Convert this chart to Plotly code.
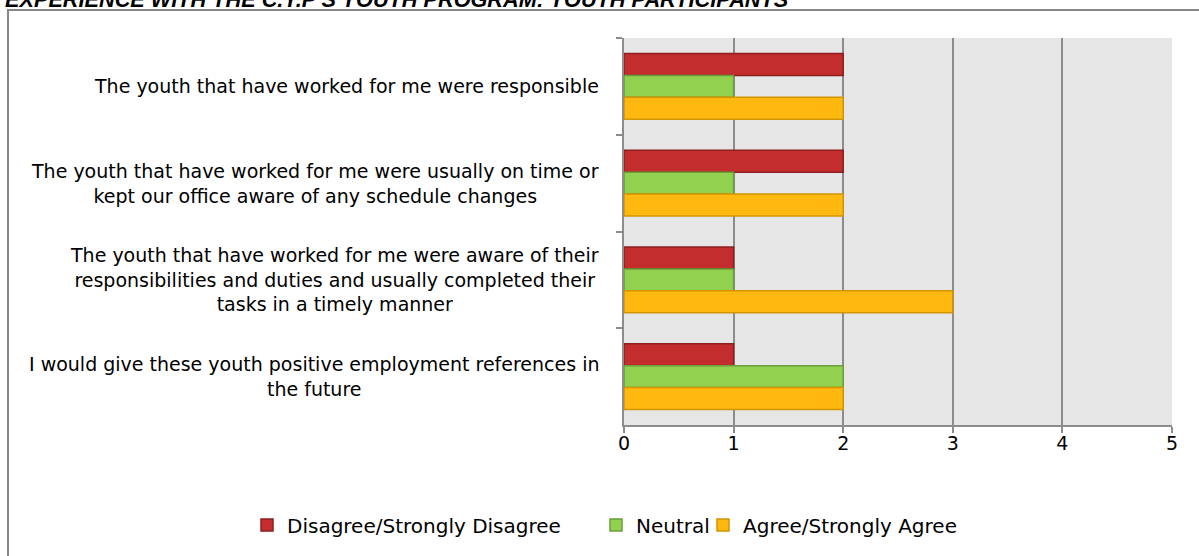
import plotly.graph_objects as go

statements = [
    "The youth that have worked for me were responsible",
    "The youth that have worked for me were usually on time or<br>kept our office aware of any schedule changes",
    "The youth that have worked for me were aware of their<br>responsibilities and duties and usually completed their<br>tasks in a timely manner",
    "I would give these youth positive employment references in<br>the future",
]
disagree = [2, 2, 1, 1]
neutral = [1, 1, 1, 2]
agree = [2, 2, 3, 2]
x_ticks = [0, 1, 2, 3, 4, 5]

title = "EXPERIENCE WITH THE C.Y.P'S YOUTH PROGRAM: YOUTH PARTICIPANTS"

FONT = "DejaVu Sans, Century Gothic, sans-serif"

W, H = 1199, 556
L, R, T, B = 624, 27, 38, 131
pw, ph = W - L - R, H - T - B


def px_x(x):
    return (x - L) / pw


def px_y(y):
    return 1 - (y - T) / ph


fig = go.Figure()
series = [
    ("Disagree/Strongly Disagree", disagree, "#C32D2E", "#8E1F20", "legend", 285),
    ("Neutral", neutral, "#92D050", "#6A9E38", "legend2", 634),
    ("Agree/Strongly Agree", agree, "#FFB80F", "#D29500", "legend3", 741),
]
for name, vals, fill, edge, leg, _ in series:
    fig.add_trace(go.Bar(
        y=statements, x=vals, name=name, orientation="h", legend=leg,
        showlegend=True,
        marker=dict(color=fill, line=dict(color=edge, width=1.5)),
    ))

# category labels as centred multi-line annotations
for s in statements:
    fig.add_annotation(
        x=px_x(601), xref="paper", y=s, yref="y",
        text=s, showarrow=False, xanchor="right", align="center",
        font=dict(family=FONT, size=19, color="#000"),
    )

# chart frame
fig.add_shape(type="rect", xref="paper", yref="paper",
              x0=px_x(8), x1=px_x(1215), y0=px_y(575), y1=px_y(10),
              line=dict(color="#888888", width=2), layer="below")

fig.add_annotation(
    x=px_x(3), xref="paper", y=px_y(14), yref="paper",
    text="<b><i>" + title + "</i></b>", showarrow=False,
    xanchor="left", yanchor="bottom",
    font=dict(family="Liberation Sans, Arial", size=21.7, color="#000"),
)

legends = {}
for name, _, _, _, leg, text_x in series:
    legends[leg] = dict(orientation="h", x=px_x(text_x - 38), xanchor="left",
                        y=px_y(525), yanchor="middle", font=dict(size=20),
                        itemwidth=30, bgcolor="rgba(0,0,0,0)")

fig.update_layout(
    width=W, height=H,
    margin=dict(l=L, r=R, t=T, b=B),
    showlegend=True,
    barmode="group", bargap=0.32, bargroupgap=0,
    plot_bgcolor="#E6E6E6", paper_bgcolor="white",
    font=dict(family=FONT, size=19, color="#000"),
    xaxis=dict(range=[0, 5], tickvals=x_ticks, showgrid=True,
               gridcolor="#8C8C8C", gridwidth=2, zeroline=False,
               showline=True, linecolor="#8C8C8C", linewidth=2,
               ticks="outside", ticklen=6, tickcolor="#8C8C8C", tickwidth=2,
               ticklabelstandoff=-6, tickfont=dict(size=19)),
    yaxis=dict(autorange="reversed", showticklabels=False,
               tickson="boundaries", ticks="outside", ticklen=6,
               tickcolor="#8C8C8C", tickwidth=2, showgrid=False,
               showline=True, linecolor="#8C8C8C", linewidth=2),
    **legends,
)

# drop the default 8px body margin so the figure sits at the page origin
fig.write_html("out.html", config={"displayModeBar": False},
               post_script="document.body.style.margin='0';")
